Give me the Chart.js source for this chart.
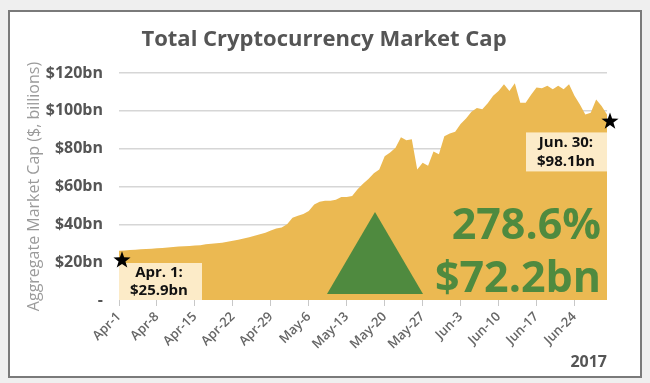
<!DOCTYPE html>
<html>
<head>
<meta charset="utf-8">
<script src="https://cdn.jsdelivr.net/npm/chart.js@4"></script>
<style>
  html, body { margin: 0; padding: 0; background: #fff; }
  #wrap { position: relative; width: 650px; height: 383px; }
</style>
</head>
<body>
<div id="wrap"><canvas id="c" width="650" height="383"></canvas></div>
<script>
// Daily dates, Apr 1 - Jun 30 2017
const months = [['Apr', 30], ['May', 31], ['Jun', 30]];
const days = [];
months.forEach(([m, n]) => { for (let d = 1; d <= n; d++) days.push(m + '-' + d); });

// Aggregate market cap, $bn
const marketCap = [
  26.0, 26.2, 26.4, 26.6, 26.8, 27.0, 27.1,
  27.3, 27.5, 27.7, 28.0, 28.3, 28.4, 28.6,
  28.8, 29.0, 29.5, 29.7, 30.0, 30.3, 30.8,
  31.3, 31.9, 32.5, 33.2, 34.0, 34.8, 35.5,
  36.8, 37.8, 38.3, 40.0, 43.5, 44.5, 45.5,
  47.0, 50.5, 52.0, 52.5, 52.5, 53.0, 54.5,
  54.5, 55.0, 58.5, 61.5, 64.0, 67.0, 69.0,
  76.0, 78.0, 80.5, 86.0, 84.5, 85.0, 69.0,
  72.5, 71.0, 78.5, 77.0, 86.5, 88.0, 89.0,
  93.0, 96.0, 99.5, 101.5, 100.8, 104.0, 108.0,
  110.5, 114.0, 110.5, 114.6, 104.3, 104.3, 108.5,
  112.3, 112.0, 113.2, 111.4, 113.2, 111.4, 114.0,
  108.0, 103.4, 98.1, 99.0, 106.0, 102.5, 98.1
];

const yTicks = [0, 20, 40, 60, 80, 100, 120];
const startLabel = ['Apr. 1:', '$25.9bn'];
const endLabel = ['Jun. 30:', '$98.1bn'];
const changeLabel = ['278.6%', '$72.2bn'];

const FONT = '"Open Sans", Lato, sans-serif';
const GOLD = '#ebb952';
const GREEN = '#4f8a3f';
const CREAM = '#fcebc8';

function star(ctx, cx, cy, r) {
  ctx.beginPath();
  for (let i = 0; i < 10; i++) {
    const rad = i % 2 === 0 ? r : r * 0.4;
    const a = -Math.PI / 2 + i * Math.PI / 5;
    ctx.lineTo(cx + rad * Math.cos(a), cy + rad * Math.sin(a));
  }
  ctx.closePath();
  ctx.fillStyle = '#000';
  ctx.fill();
}

const frame = {
  id: 'frame',
  beforeDraw(chart) {
    const { ctx, width, height } = chart;
    ctx.save();
    ctx.fillStyle = '#efefef';
    ctx.fillRect(0, 0, width, height);
    ctx.fillStyle = '#fff';
    ctx.fillRect(9, 11, 632, 366);
    ctx.strokeStyle = '#7a7a7a';
    ctx.lineWidth = 2;
    ctx.strokeRect(9, 11, 632, 366);
    ctx.fillStyle = '#555';
    ctx.font = 'bold 22px ' + FONT;
    ctx.textAlign = 'center';
    ctx.textBaseline = 'middle';
    ctx.fillText('Total Cryptocurrency Market Cap', 324, 40);
    ctx.restore();
  }
};

const notes = {
  id: 'notes',
  afterDatasetsDraw(chart) {
    const { ctx, chartArea: a, scales: { x, y } } = chart;
    ctx.save();
    // start box + star
    const x0 = x.getPixelForValue(0);
    ctx.fillStyle = CREAM;
    ctx.fillRect(a.left, a.bottom - 37, 83, 37);
    ctx.fillStyle = '#111';
    ctx.font = 'bold 15px ' + FONT;
    ctx.textAlign = 'center';
    ctx.textBaseline = 'middle';
    ctx.fillText(startLabel[0], a.left + 40, a.bottom - 27);
    ctx.fillText(startLabel[1], a.left + 40, a.bottom - 9);
    star(ctx, x0 + 3, y.getPixelForValue(21), 9);

    // end box + star
    const xn = x.getPixelForValue(marketCap.length - 1);
    const yn = y.getPixelForValue(marketCap[marketCap.length - 1]);
    ctx.fillStyle = CREAM;
    ctx.fillRect(a.right - 81, yn + 18, 81, 39);
    ctx.fillStyle = '#111';
    ctx.fillText(endLabel[0], a.right - 41, yn + 28);
    ctx.fillText(endLabel[1], a.right - 41, yn + 47);
    star(ctx, xn + 3, yn + 7, 9);

    // green triangle
    ctx.fillStyle = GREEN;
    ctx.beginPath();
    ctx.moveTo(375, 212);
    ctx.lineTo(423, a.bottom - 6);
    ctx.lineTo(327, a.bottom - 6);
    ctx.closePath();
    ctx.fill();

    ctx.font = 'bold 43px ' + FONT;
    ctx.textAlign = 'right';
    ctx.textBaseline = 'alphabetic';
    ctx.fillText(changeLabel[0], 601, 239);
    ctx.fillText(changeLabel[1], 601, 292);
    ctx.restore();
  }
};

new Chart(document.getElementById('c'), {
  type: 'line',
  data: {
    labels: days,
    datasets: [{
      data: marketCap,
      fill: 'origin',
      backgroundColor: GOLD,
      borderWidth: 0,
      pointRadius: 0,
      tension: 0
    }]
  },
  options: {
    responsive: false,
    animation: false,
    layout: { padding: { top: 73, right: 43, bottom: 0, left: 0 } },
    plugins: { legend: { display: false }, tooltip: { enabled: false }, title: { display: false } },
    scales: {
      x: {
        type: 'category',
        offset: false,
        afterFit: s => { s.height = 83; },
        border: { display: false },
        grid: {
          drawOnChartArea: false,
          drawTicks: true,
          tickLength: 6,
          color: c => (c.index % 7 === 0 ? '#c8c8c8' : 'rgba(0,0,0,0)')
        },
        ticks: {
          autoSkip: false,
          maxRotation: 45,
          minRotation: 45,
          padding: 3,
          color: '#666',
          font: { family: FONT, size: 13, weight: '600' },
          callback: (v, i) => (i % 7 === 0 ? days[i] : '')
        },
        title: {
          display: true,
          text: '2017',
          align: 'end',
          color: '#555',
          font: { family: FONT, size: 16, weight: 'bold' },
          padding: { top: 0, bottom: 11 }
        }
      },
      y: {
        min: yTicks[0],
        max: yTicks[yTicks.length - 1],
        afterFit: s => { s.width = 119; },
        afterBuildTicks: s => { s.ticks = yTicks.map(v => ({ value: v })); },
        border: { display: false },
        grid: {
          drawTicks: false,
          lineWidth: 1.5,
          color: c => (c.tick && c.tick.value === 0 ? 'rgba(0,0,0,0)' : '#d6d6d6')
        },
        ticks: {
          padding: 16,
          color: '#555',
          font: { family: FONT, size: 16, weight: 'bold' },
          callback: v => (v === 0 ? '-' : '$' + v + 'bn')
        },
        title: {
          display: true,
          text: 'Aggregate Market Cap ($, billions)',
          color: '#9b9b9b',
          font: { family: FONT, size: 16 },
          padding: { top: 25, bottom: 0 }
        }
      }
    }
  },
  plugins: [frame, notes]
});
</script>
</body>
</html>
